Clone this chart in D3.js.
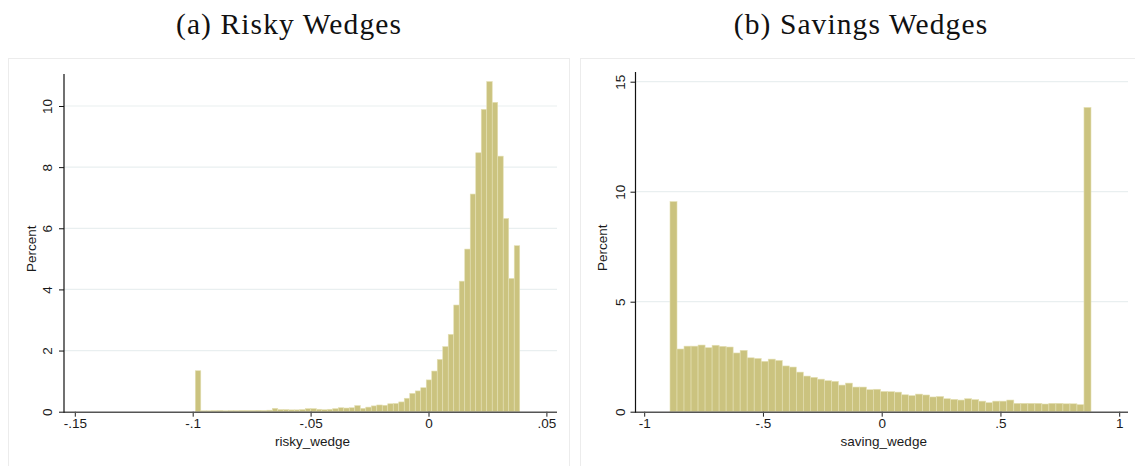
<!DOCTYPE html>
<html>
<head>
<meta charset="utf-8">
<script src="https://cdn.jsdelivr.net/npm/d3@7/dist/d3.min.js"></script>
<style>
  html, body { margin: 0; padding: 0; background: #ffffff; }
  svg { display: block; }
  .tick text { font-family: "Liberation Sans", Arial, sans-serif; }
</style>
</head>
<body>
<svg id="chart" width="1135" height="466"></svg>
<script>
// ---- Risky wedges histogram (percent of observations per bin) ----
const riskyBinStart = -0.0989;
const riskyBinWidth = 0.002332;
const riskyPercent = [
  1.34, 0.03, 0.03, 0.035, 0.04, 0.03, 0.035, 0.035, 0.04, 0.04,
  0.04, 0.045, 0.04, 0.05, 0.11, 0.07, 0.07, 0.06, 0.06, 0.07,
  0.10, 0.10, 0.08, 0.065, 0.08, 0.10, 0.13, 0.12, 0.13, 0.20,
  0.11, 0.15, 0.19, 0.22, 0.21, 0.26, 0.27, 0.32, 0.44, 0.60,
  0.68, 0.785, 1.04, 1.33, 1.71, 2.13, 2.53, 3.49, 4.27, 5.32,
  7.12, 8.47, 9.89, 10.80, 10.12, 8.36, 6.32, 4.36, 5.43
];
const riskyXTicks = [-0.15, -0.1, -0.05, 0, 0.05];
const riskyXTickLabels = ["-.15", "-.1", "-.05", "0", ".05"];
const riskyYTicks = [0, 2, 4, 6, 8, 10];

// ---- Savings wedges histogram ----
const savingBinStart = -0.8914;
const savingBinWidth = 0.029544;
const savingPercent = [
  9.55, 2.85, 2.98, 2.98, 3.03, 2.91, 3.02, 2.97, 2.94, 2.67,
  2.79, 2.45, 2.42, 2.29, 2.39, 2.33, 2.08, 2.03, 1.80, 1.62,
  1.56, 1.48, 1.41, 1.38, 1.21, 1.30, 1.12, 1.12, 1.00, 1.02,
  0.92, 0.91, 0.89, 0.77, 0.73, 0.80, 0.76, 0.67, 0.69, 0.59,
  0.56, 0.53, 0.59, 0.55, 0.48, 0.41, 0.48, 0.48, 0.53, 0.38,
  0.38, 0.38, 0.38, 0.35, 0.38, 0.38, 0.36, 0.36, 0.32, 13.83
];
const savingXTicks = [-1, -0.5, 0, 0.5, 1];
const savingXTickLabels = ["-1", "-.5", "0", ".5", "1"];
const savingYTicks = [0, 5, 10, 15];

const titles = ["(a) Risky Wedges", "(b) Savings Wedges"];
const xTitles = ["risky_wedge", "saving_wedge"];
const yTitle = "Percent";

const BAR_FILL = "#cbc37f";
const BAR_EDGE = "#e4e0b4";
const GRID = "#e9eff0";

const svg = d3.select("#chart");

function panel(cfg) {
  const g = svg.append("g");

  // outer graph-region frame
  g.append("rect")
    .attr("x", cfg.frame[0] + 0.5).attr("y", cfg.frame[1] + 0.5)
    .attr("width", cfg.frame[2]).attr("height", cfg.frame[3])
    .attr("fill", "#ffffff").attr("stroke", "#ececec").attr("stroke-width", 1);

  const x = d3.scaleLinear().domain(cfg.xDomain).range(cfg.xRange);
  const y = d3.scaleLinear().domain(cfg.yDomain).range(cfg.yRange);

  // horizontal gridlines
  g.append("g").selectAll("line")
    .data(cfg.yTicks.filter(d => d > 0))
    .join("line")
    .attr("x1", cfg.plotLeft).attr("x2", cfg.plotRight)
    .attr("y1", d => y(d)).attr("y2", d => y(d))
    .attr("stroke", GRID).attr("stroke-width", 1.2);

  // bars
  const bins = cfg.values.map((v, i) => ({
    x0: cfg.binStart + i * cfg.binWidth,
    x1: cfg.binStart + (i + 1) * cfg.binWidth,
    v: v
  }));
  g.append("g").selectAll("rect")
    .data(bins)
    .join("rect")
    .attr("x", d => x(d.x0))
    .attr("width", d => x(d.x1) - x(d.x0))
    .attr("y", d => y(d.v))
    .attr("height", d => y(0) - y(d.v))
    .attr("fill", BAR_FILL)
    .attr("stroke", BAR_EDGE)
    .attr("stroke-width", 0.6);

  // x axis
  const xAxis = d3.axisBottom(x)
    .tickValues(cfg.xTicks)
    .tickFormat((d, i) => cfg.xTickLabels[i])
    .tickSize(5).tickPadding(2);
  const gx = g.append("g")
    .attr("transform", `translate(0,${y(0)})`)
    .call(xAxis);
  gx.select(".domain").remove();
  gx.selectAll(".tick line").attr("stroke", "#222").attr("stroke-width", 1);
  gx.selectAll(".tick text").attr("font-size", 13.5).attr("fill", "#1a1a1a");
  g.append("line")
    .attr("x1", cfg.plotLeft).attr("x2", cfg.plotRight)
    .attr("y1", y(0) + 0.5).attr("y2", y(0) + 0.5)
    .attr("stroke", "#555").attr("stroke-width", 1.6);

  // y axis
  const yAxis = d3.axisLeft(y)
    .tickValues(cfg.yTicks)
    .tickFormat(d3.format("d"))
    .tickSize(5).tickPadding(4);
  const gy = g.append("g")
    .attr("transform", `translate(${cfg.plotLeft},0)`)
    .call(yAxis);
  gy.select(".domain").remove();
  gy.selectAll(".tick line").attr("stroke", "#111").attr("stroke-width", 1);
  gy.selectAll(".tick text")
    .attr("font-size", 13.5).attr("fill", "#1a1a1a")
    .attr("text-anchor", "middle").attr("dy", null)
    .attr("transform", "rotate(-90)")
    .attr("x", 0).attr("y", -cfg.yLabelOffset)
    .attr("dominant-baseline", "central");
  g.append("line")
    .attr("x1", cfg.plotLeft).attr("x2", cfg.plotLeft)
    .attr("y1", cfg.axisTop).attr("y2", y(0) + 1)
    .attr("stroke", "#111").attr("stroke-width", 1.2);

  // axis titles
  g.append("text")
    .attr("transform", `translate(${cfg.yTitleX},${(cfg.axisTop + y(0)) / 2 + 6}) rotate(-90)`)
    .attr("text-anchor", "middle").attr("dominant-baseline", "central")
    .attr("font-family", "Liberation Sans, Arial, sans-serif")
    .attr("font-size", 13.5).attr("fill", "#1a1a1a")
    .text(yTitle);
  g.append("text")
    .attr("x", (cfg.plotLeft + cfg.plotRight) / 2 + 2).attr("y", 446)
    .attr("text-anchor", "middle")
    .attr("font-family", "Liberation Sans, Arial, sans-serif")
    .attr("font-size", 13.5).attr("fill", "#1a1a1a")
    .text(cfg.xTitle);

  // panel title
  svg.append("text")
    .attr("x", cfg.titleX).attr("y", 34)
    .attr("text-anchor", "middle")
    .attr("font-family", "Liberation Serif, 'Times New Roman', serif")
    .attr("font-size", 29.5).attr("letter-spacing", 1.1).attr("fill", "#111")
    .text(cfg.title);
}

panel({
  frame: [8, 58, 561, 420],
  xDomain: [-0.15, 0.05], xRange: [74.8, 546.4],
  yDomain: [0, 10], yRange: [411.7, 106],
  plotLeft: 64, plotRight: 557, axisTop: 74,
  yTicks: riskyYTicks, xTicks: riskyXTicks, xTickLabels: riskyXTickLabels,
  binStart: riskyBinStart, binWidth: riskyBinWidth, values: riskyPercent,
  yLabelOffset: 17, yTitleX: 31,
  xTitle: xTitles[0], title: titles[0], titleX: 289
});

panel({
  frame: [580, 58, 560, 420],
  xDomain: [-1, 1], xRange: [644.2, 1119.2],
  yDomain: [0, 15], yRange: [411.7, 81.7],
  plotLeft: 635.5, plotRight: 1128, axisTop: 72,
  yTicks: savingYTicks, xTicks: savingXTicks, xTickLabels: savingXTickLabels,
  binStart: savingBinStart, binWidth: savingBinWidth, values: savingPercent,
  yLabelOffset: 15, yTitleX: 602,
  xTitle: xTitles[1], title: titles[1], titleX: 861
});
</script>
</body>
</html>
